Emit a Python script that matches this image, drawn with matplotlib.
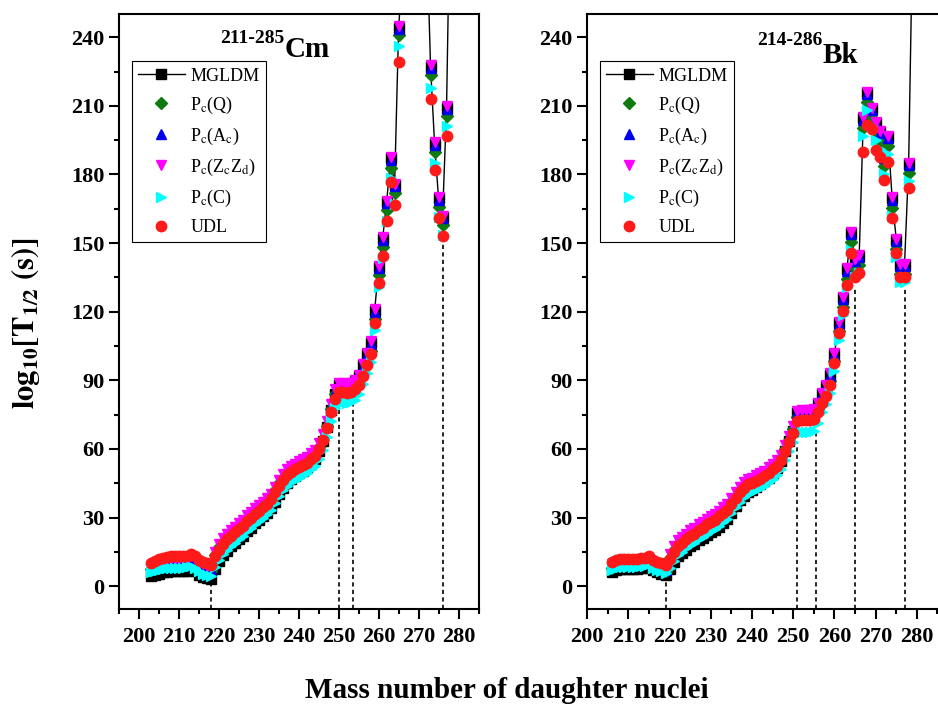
import numpy as np
import matplotlib
matplotlib.use("Agg")
import matplotlib.pyplot as plt
from matplotlib.ticker import MultipleLocator

plt.rcParams["font.family"] = "Liberation Serif"
plt.rcParams["mathtext.fontset"] = "stix"

# --- Cm chain (left panel), daughter mass numbers 203..278 ---
a_cm = np.arange(203, 279)
cm_mgldm = [4.5, 5.0, 5.5, 6.0, 6.3, 6.5, 6.5, 6.5, 6.5, 6.7, 7.5, 6.5, 5.0, 4.0, 3.5, 3.0,
            7.5, 11.0, 13.5, 15.5, 17.5, 19.0, 20.5, 22.0, 24.0, 25.5, 27.5, 29.0, 30.5, 32.0,
            34.0, 37.0, 40.5, 43.0, 45.0, 47.0, 48.0, 49.5, 50.5, 52.0, 53.5, 55.5, 59.0, 63.5,
            69.5, 77.0, 84.0, 88.0, 88.0, 87.5, 88.5, 89.5, 92.0, 96.5, 101.5, 106.5, 120.5, 139.5,
            152.0, 168.0, 187.0, 175.5, 244.0, 270, 290, 300, 310, 305, 300, 287,
            227.0, 193.5, 169.5, 161.5, 209.0, 314]
cm_q = [7.5, 8.5, 9.5, 10.0, 10.3, 10.5, 10.5, 10.5, 10.5, 10.7, 11.7, 10.5, 9.0, 8.0, 7.5, 6.8,
        13.5, 17.0, 19.5, 21.5, 23.0, 24.5, 26.0, 27.5, 29.5, 31.0, 32.5, 34.0, 35.5, 37.0,
        39.0, 42.0, 45.0, 47.5, 49.5, 51.0, 52.0, 53.0, 54.0, 55.0, 56.5, 58.0, 61.0, 64.5,
        70.0, 77.5, 84.0, 86.5, 86.5, 86.0, 86.5, 87.5, 89.5, 93.5, 98.5, 103.0, 117.0, 136.0,
        148.5, 164.5, 183.0, 172.0, 241.0, 266, 285, 295, 304, 300, 293, 280,
        223.5, 190.0, 166.0, 158.0, 205.5, 308]
cm_ac = [8.0, 9.0, 10.0, 10.5, 10.8, 11.0, 11.0, 11.0, 11.0, 11.2, 12.2, 11.0, 9.5, 8.5, 8.0, 7.3,
         14.0, 17.5, 20.0, 22.0, 23.5, 25.0, 26.5, 28.0, 30.0, 31.5, 33.0, 34.5, 36.0, 37.5,
         39.5, 42.5, 45.5, 48.0, 50.0, 51.5, 52.5, 53.5, 54.5, 55.5, 57.0, 58.5, 61.5, 65.5,
         71.0, 78.5, 85.0, 88.0, 88.0, 87.5, 88.0, 89.0, 91.5, 96.0, 101.0, 106.0, 120.0, 139.0,
         151.5, 167.5, 186.5, 175.0, 243.5, 269, 289, 299, 308, 304, 297, 284,
         226.5, 193.0, 169.0, 161.0, 208.5, 312]
cm_zz = [9.0, 10.0, 11.0, 11.5, 11.8, 12.0, 12.0, 12.0, 12.0, 12.2, 13.2, 12.0, 10.5, 9.5, 9.0, 8.3,
         15.0, 18.5, 21.0, 23.0, 24.5, 26.0, 27.5, 29.0, 31.0, 32.5, 34.0, 35.5, 37.0, 38.5,
         40.5, 43.5, 46.5, 49.0, 51.0, 52.5, 53.5, 54.5, 55.5, 56.5, 58.0, 59.5, 62.5, 66.5,
         72.0, 79.5, 86.0, 89.0, 89.0, 88.5, 89.0, 90.0, 92.5, 97.0, 102.0, 107.0, 121.0, 140.0,
         152.5, 168.5, 187.5, 176.0, 245.0, 275, 292, 302, 310, 306, 298, 285,
         228.0, 194.0, 170.0, 162.0, 210.0, 314]
cm_c = [6.0, 6.5, 7.0, 7.5, 7.8, 8.0, 8.0, 8.0, 8.0, 8.2, 9.0, 8.0, 6.5, 5.5, 5.0, 4.5,
        8.5, 11.5, 14.0, 16.0, 17.5, 19.0, 20.5, 22.0, 24.0, 25.5, 27.0, 28.5, 30.0, 31.5,
        33.5, 36.5, 39.5, 42.0, 44.0, 45.5, 46.5, 47.5, 48.5, 49.5, 51.0, 52.5, 55.5, 59.5,
        65.0, 72.0, 78.0, 80.5, 80.5, 80.0, 80.5, 81.5, 84.0, 88.5, 93.0, 98.0, 112.0, 131.0,
        143.5, 159.5, 178.5, 167.0, 236.0, 262, 280, 290, 298, 295, 288, 276,
        218.0, 185.0, 161.5, 153.5, 201.0, 300]
cm_udl = [10.0, 11.0, 12.0, 12.5, 12.8, 13.0, 13.0, 13.0, 13.0, 13.2, 14.2, 13.0, 11.5, 10.5, 10.0, 9.3,
          13.0, 16.0, 18.5, 20.5, 22.0, 23.5, 25.0, 26.5, 28.5, 30.0, 31.5, 33.0, 34.5, 36.0,
          38.0, 41.0, 44.0, 46.5, 48.5, 50.0, 51.0, 52.0, 53.0, 54.0, 55.5, 57.0, 60.0, 64.0,
          69.0, 76.0, 82.0, 85.0, 85.0, 84.5, 85.0, 86.0, 88.0, 92.0, 96.5, 101.5, 115.0, 132.5,
          144.5, 159.5, 176.5, 166.5, 229.0, 258, 275, 285, 292, 288, 280, 268,
          213.0, 182.0, 161.0, 153.0, 197.0, 296]
cm_marks_x = [218, 250, 253.5, 276]
cm_marks_top = [3, 80, 80, 150]

# --- Bk chain (right panel), daughter mass numbers 206..279 ---
a_bk = np.arange(206, 280)
bk_mgldm = [6.1, 7.0, 7.5, 7.5, 7.5, 7.5, 7.5, 7.8, 8.0, 8.5, 7.0, 6.0, 5.5, 4.7,
            7.5, 10.5, 13.0, 14.5, 16.0, 17.5, 18.5, 20.0, 21.0, 22.5, 23.5, 24.5, 26.0, 27.5,
            29.5, 32.0, 35.0, 37.5, 39.5, 41.0, 42.0, 43.5, 44.5, 46.0, 47.5, 49.5, 51.5, 54.5,
            59.0, 63.5, 68.0, 75.5, 76.5, 76.5, 76.5, 77.0, 79.5, 84.0, 87.5, 92.5, 101.5, 115.0,
            126.0, 138.5, 154.5, 142.5, 144.5, 204.5, 215.5, 208.5, 202.5, 198.5, 187.5, 196.5,
            169.5, 151.5, 140.5, 140.5, 184.5, 290]
bk_q = [8.1, 9.0, 9.5, 9.5, 9.5, 9.5, 9.5, 9.8, 10.0, 10.5, 9.0, 8.0, 7.5, 6.7,
        12.5, 16.0, 18.5, 20.0, 21.5, 23.0, 24.0, 25.5, 26.5, 28.0, 29.0, 30.0, 31.5, 33.0,
        34.5, 37.0, 39.5, 42.0, 44.0, 45.5, 46.0, 47.0, 48.0, 49.0, 50.5, 52.0, 53.5, 56.0,
        60.0, 64.0, 68.5, 74.0, 74.5, 74.5, 74.5, 75.0, 77.5, 81.5, 85.0, 89.5, 98.5, 111.5,
        122.0, 134.5, 150.5, 138.5, 140.5, 200.5, 211.5, 204.5, 198.5, 194.5, 183.5, 192.5,
        165.5, 147.5, 136.5, 136.5, 180.5, 294]
bk_ac = [8.6, 9.5, 10.0, 10.0, 10.0, 10.0, 10.0, 10.3, 10.5, 11.0, 9.5, 8.5, 8.0, 7.2,
         13.0, 16.5, 19.0, 20.5, 22.0, 23.5, 24.5, 26.0, 27.0, 28.5, 29.5, 30.5, 32.0, 33.5,
         35.0, 37.5, 40.0, 42.5, 44.5, 46.0, 46.5, 47.5, 48.5, 49.5, 51.0, 52.5, 54.0, 56.5,
         60.5, 64.5, 69.0, 75.5, 76.0, 76.0, 76.0, 76.5, 79.0, 83.5, 87.0, 92.0, 101.0, 114.5,
         125.5, 138.0, 154.0, 142.0, 144.0, 204.0, 215.0, 208.0, 202.0, 198.0, 187.0, 196.0,
         169.0, 151.0, 140.0, 140.0, 184.0, 298]
bk_zz = [9.6, 10.5, 11.0, 11.0, 11.0, 11.0, 11.0, 11.3, 11.5, 12.0, 10.5, 9.5, 9.0, 8.2,
         14.0, 17.5, 20.0, 21.5, 23.0, 24.5, 25.5, 27.0, 28.0, 29.5, 30.5, 31.5, 33.0, 34.5,
         36.0, 38.5, 41.0, 43.5, 45.5, 47.0, 47.5, 48.5, 49.5, 50.5, 52.0, 53.5, 55.0, 57.5,
         61.5, 65.5, 70.0, 76.5, 77.0, 77.0, 77.0, 77.5, 80.0, 84.5, 88.0, 93.0, 102.0, 115.5,
         126.5, 139.0, 155.0, 143.0, 145.0, 205.0, 216.0, 209.0, 203.0, 199.0, 188.0, 197.0,
         170.0, 152.0, 141.0, 141.0, 185.0, 300]
bk_c = [7.1, 8.0, 8.5, 8.5, 8.5, 8.5, 8.5, 8.8, 9.0, 9.5, 8.0, 7.0, 6.5, 5.7,
        8.0, 11.0, 13.5, 15.0, 16.5, 18.0, 19.0, 20.5, 21.5, 23.0, 24.0, 25.0, 26.5, 28.0,
        29.5, 32.0, 34.5, 37.0, 39.0, 40.5, 41.0, 42.0, 43.0, 44.0, 45.5, 47.0, 48.5, 51.0,
        55.0, 59.0, 63.0, 67.0, 67.5, 67.5, 67.5, 68.0, 71.5, 76.0, 79.5, 84.5, 94.0, 107.5,
        118.5, 131.0, 147.0, 135.0, 137.0, 197.0, 208.0, 201.0, 195.0, 191.0, 180.0, 189.0,
        162.0, 144.0, 133.0, 133.0, 177.0, 290]
bk_udl = [10.6, 11.5, 12.0, 12.0, 12.0, 12.0, 12.0, 12.3, 12.5, 13.0, 11.5, 10.5, 10.0, 9.2,
          12.0, 15.0, 17.5, 19.0, 20.5, 22.0, 23.0, 24.5, 25.5, 27.0, 28.0, 29.0, 30.5, 32.0,
          33.5, 36.0, 38.5, 41.0, 43.0, 44.5, 45.0, 46.0, 47.0, 48.0, 49.5, 51.0, 52.5, 55.0,
          59.0, 63.0, 67.0, 72.0, 72.5, 72.5, 72.5, 73.0, 76.0, 80.0, 83.0, 88.0, 97.5, 110.5,
          120.5, 131.5, 145.5, 135.0, 137.0, 190.0, 201.5, 200.0, 190.5, 187.5, 177.5, 185.5,
          161.0, 145.5, 135.0, 135.0, 174.0, 290]
bk_marks_x = [219, 251, 255.5, 265, 277]
bk_marks_top = [3, 63, 67, 131, 131]

labels = ["MGLDM", r"P$_\mathrm{c}$(Q)", r"P$_\mathrm{c}$(A$_\mathrm{c}$)",
          r"P$_\mathrm{c}$(Z$_\mathrm{c}$Z$_\mathrm{d}$)", r"P$_\mathrm{c}$(C)", "UDL"]


def draw_panel(ax, a, series, marks_x, marks_top, xlim):
    mgldm, q, ac, zz, c, udl = series
    ax.vlines(marks_x, -10, marks_top, colors="black", linestyles=(0, (2.5, 2)), lw=1.2)
    ax.plot(a, mgldm, "-s", color="black", lw=1, ms=6.5, label=labels[0])
    ax.plot(a, q, "D", ls="none", color="#0f7a0f", ms=6.5, label=labels[1])
    ax.plot(a, ac, "^", ls="none", color="#0000ee", ms=7.5, label=labels[2])
    ax.plot(a, zz, "v", ls="none", color="#ff00ff", ms=7.5, label=labels[3])
    ax.plot(a, c, ">", ls="none", color="#00ffff", ms=7.5, label=labels[4])
    ax.plot(a, udl, "o", ls="none", color="#ff1a1a", ms=7.5, label=labels[5])
    ax.set_xlim(*xlim)
    ax.set_ylim(-10, 250)
    ax.xaxis.set_major_locator(MultipleLocator(10))
    ax.xaxis.set_minor_locator(MultipleLocator(5))
    ax.yaxis.set_major_locator(MultipleLocator(30))
    ax.yaxis.set_minor_locator(MultipleLocator(15))
    ax.tick_params(which="major", direction="out", length=7, width=1.5, labelsize=16)
    ax.tick_params(axis="x", which="major", pad=6)
    ax.tick_params(which="minor", direction="out", length=3.5, width=1.5)
    for lab in ax.get_xticklabels() + ax.get_yticklabels():
        lab.set_fontweight("bold")
    for s in ax.spines.values():
        s.set_linewidth(1.5)
    leg = ax.legend(loc="upper left", bbox_to_anchor=(0.035, 0.921), borderaxespad=0,
                    frameon=True, fancybox=False,
                    edgecolor="black", framealpha=1, numpoints=1, handlelength=2.6,
                    handletextpad=0.3, labelspacing=0.55, borderpad=0.35,
                    prop={"family": "Liberation Serif", "weight": "normal", "size": 13})
    leg.get_frame().set_linewidth(0.8)


fig = plt.figure(figsize=(9.38, 7.04), dpi=100)
W, H = 938, 704
ax1 = fig.add_axes([119 / W, 1 - 609 / H, 359.5 / W, 594.6 / H])
ax2 = fig.add_axes([587.3 / W, 1 - 609 / H, 354.3 / W, 594.6 / H])

draw_panel(ax1, a_cm, [cm_mgldm, cm_q, cm_ac, cm_zz, cm_c, cm_udl],
           cm_marks_x, cm_marks_top, (195, 285))
draw_panel(ax2, a_bk, [bk_mgldm, bk_q, bk_ac, bk_zz, bk_c, bk_udl],
           bk_marks_x, bk_marks_top, (200, 286))

# nucleus titles
fig.text(284 / W, 1 - 43 / H, "211-285", fontsize=14, fontweight="bold", ha="right", va="baseline")
fig.text(285 / W, 1 - 57 / H, "Cm", fontsize=21, fontweight="bold", ha="left", va="baseline")
fig.text(822 / W, 1 - 45 / H, "214-286", fontsize=14, fontweight="bold", ha="right", va="baseline")
fig.text(823 / W, 1 - 63 / H, "Bk", fontsize=21, fontweight="bold", ha="left", va="baseline")

fig.text(26 / W, 1 - 323 / H, r"$\mathbf{log_{10}[T_{1/2}\ (s)]}$", fontsize=22,
         rotation=90, ha="center", va="center")
fig.text(708 / W, 1 - 698 / H, "Mass number of daughter nuclei", fontsize=21,
         fontweight="bold", ha="right", va="baseline")

fig.savefig("out.png", dpi=100)
